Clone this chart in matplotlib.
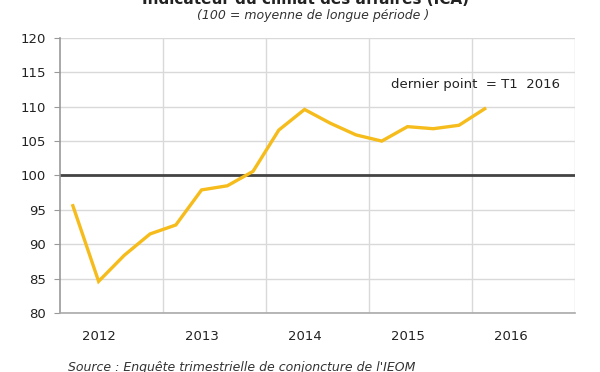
import matplotlib
matplotlib.use("Agg")
import matplotlib.pyplot as plt
import numpy as np

years = ["2012", "2013", "2014", "2015", "2016"]
quarters = ["T1 2012", "T2 2012", "T3 2012", "T4 2012",
            "T1 2013", "T2 2013", "T3 2013", "T4 2013",
            "T1 2014", "T2 2014", "T3 2014", "T4 2014",
            "T1 2015", "T2 2015", "T3 2015", "T4 2015",
            "T1 2016"]
ica = [95.6, 84.6, 88.4, 91.5, 92.8, 97.9, 98.5, 100.6,
       106.6, 109.6, 107.6, 105.9, 105.0, 107.1, 106.8, 107.3, 109.7]
yticks = [80, 85, 90, 95, 100, 105, 110, 115, 120]

plt.rcParams['font.family'] = ['DejaVu Sans']

fig = plt.figure(figsize=(6.0, 3.72), dpi=100)
ax = fig.add_axes([0.1, 0.1586, 0.858, 0.7394])

x = np.arange(len(ica)) + 0.5
ax.set_xlim(0, 4 * len(years))
ax.set_ylim(80, 120)

# grid
for yv in yticks:
    ax.axhline(yv, color="#d9d9d9", lw=1.0, zorder=1)
for k in range(1, len(years) + 1):
    ax.axvline(4 * k, color="#d9d9d9", lw=1.0, zorder=1)

ax.axhline(100, color="#444444", lw=2.0, zorder=2)
ax.plot(x, ica, color="#F5BC1C", lw=2.4, zorder=3, solid_joinstyle="miter")

ax.set_yticks(yticks)
ax.set_yticklabels([str(v) for v in yticks], fontsize=9.5, color="#222222")
ax.set_xticks([4 * k + 1.5 for k in range(len(years))])
ax.set_xticklabels(years, fontsize=9.5, color="#222222")
ax.tick_params(axis="x", length=0, pad=12)
ax.tick_params(axis="y", length=4, color="#999999", pad=6)

for s in ["top", "right"]:
    ax.spines[s].set_visible(False)
ax.spines["left"].set_color("#999999")
ax.spines["bottom"].set_color("#aaaaaa")
ax.spines["left"].set_linewidth(1.2)
ax.spines["bottom"].set_linewidth(1.2)

ax.text(16.15, 113.2, "dernier point  = T1  2016", fontsize=9.5, color="#222222",
        ha="center", va="center")

fig.text(0.51, 1.0, "Indicateur du climat des affaires (ICA)", fontsize=11,
         fontweight="bold", ha="center", va="center", color="#222222")
fig.text(0.522, 1 - 16 / 372, "(100 = moyenne de longue période )", fontsize=9,
         style="italic", ha="center", va="center", color="#333333")
fig.text(0.113, 1 - 367 / 372, "Source : Enquête trimestrielle de conjoncture de l'IEOM",
         fontsize=9, style="italic", ha="left", va="center", color="#333333")

fig.savefig("out.png", dpi=100)
